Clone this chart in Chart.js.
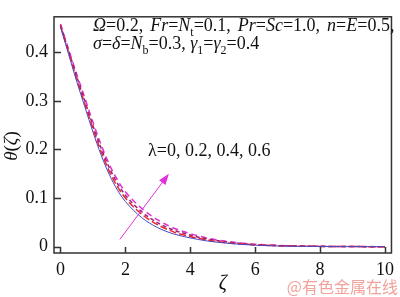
<!DOCTYPE html>
<html>
<head>
<meta charset="utf-8">
<script src="https://cdn.jsdelivr.net/npm/chart.js@4.4.1/dist/chart.umd.min.js"></script>
<style>
  body { margin: 0; background: #fff; }
</style>
</head>
<body>
<canvas id="chart" width="400" height="297"></canvas>
<script>
// zeta values along the x axis
var zeta = [0, 0.25, 0.5, 0.75, 1, 1.25, 1.5, 1.75, 2, 2.5, 3, 3.5, 4, 4.5, 5, 5.5, 6, 7, 8, 9, 10];

// theta(zeta) for lambda = 0, 0.2, 0.4, 0.6
var thetaL0  = [0.452, 0.396, 0.340, 0.288, 0.236, 0.189, 0.149, 0.117, 0.093, 0.060, 0.039, 0.026, 0.018, 0.012, 0.008, 0.005, 0.003, 0.001, 0.0004, 0.0001, 0];
var thetaL02 = [0.454, 0.400, 0.345, 0.294, 0.243, 0.196, 0.156, 0.124, 0.100, 0.067, 0.045, 0.030, 0.021, 0.014, 0.009, 0.006, 0.004, 0.0015, 0.0006, 0.0002, 0];
var thetaL04 = [0.456, 0.403, 0.350, 0.300, 0.249, 0.203, 0.163, 0.131, 0.106, 0.072, 0.049, 0.034, 0.024, 0.016, 0.011, 0.007, 0.004, 0.0017, 0.0007, 0.0002, 0];
var thetaL06 = [0.458, 0.406, 0.355, 0.306, 0.256, 0.210, 0.170, 0.138, 0.113, 0.079, 0.055, 0.038, 0.027, 0.018, 0.012, 0.008, 0.005, 0.002, 0.0008, 0.0003, 0];

var xTicks = [0, 2, 4, 6, 8, 10];
var yTicks = [0, 0.1, 0.2, 0.3, 0.4];
var yTickLabels = ['0', '0.1', '0.2', '0.3', '0.4'];

var serif = '"Liberation Serif"';

Chart.defaults.font.family = serif;
Chart.defaults.font.size = 18;
Chart.defaults.color = '#111';

function pts(ys) {
  return zeta.map(function (z, i) { return { x: z, y: ys[i] }; });
}

// draws text made of normal / italic / subscript pieces
function drawRich(ctx, parts, x, y, size) {
  parts.forEach(function (p) {
    var s = p.sub ? Math.round(size * 0.65) : size;
    ctx.font = (p.i ? 'italic ' : '') + s + 'px ' + serif;
    ctx.fillText(p.t, x, y + (p.sub ? size * 0.25 : 0));
    x += ctx.measureText(p.t).width + (p.gap || 0);
  });
}

var line1 = [
  {t: 'Ω', i: 1}, {t: '=0.2, ', gap: 2.5}, {t: 'Fr', i: 1}, {t: '='}, {t: 'N', i: 1}, {t: 't', sub: 1},
  {t: '=0.1, ', gap: 2.5}, {t: 'Pr', i: 1}, {t: '='}, {t: 'Sc', i: 1}, {t: '=1.0, ', gap: 2.5},
  {t: 'n', i: 1}, {t: '='}, {t: 'E', i: 1}, {t: '=0.5,'}
];
var line2 = [
  {t: 'σ', i: 1}, {t: '='}, {t: 'δ', i: 1}, {t: '='}, {t: 'N', i: 1}, {t: 'b', sub: 1},
  {t: '=0.3, '}, {t: 'γ', i: 1}, {t: '1', sub: 1}, {t: '='}, {t: 'γ', i: 1}, {t: '2', sub: 1}, {t: '=0.4'}
];

var frame = {
  id: 'frame',
  afterDraw: function (chart) {
    var ctx = chart.ctx, a = chart.chartArea;
    var xs = chart.scales.x, ys = chart.scales.y;
    ctx.save();
    // box + inward ticks
    ctx.strokeStyle = '#333';
    ctx.lineWidth = 1.5;
    ctx.strokeRect(a.left, a.top, a.right - a.left, a.bottom - a.top);
    ctx.beginPath();
    xs.ticks.forEach(function (t) {
      var px = Math.round(xs.getPixelForValue(t.value)) + 0.5;
      ctx.moveTo(px, a.bottom); ctx.lineTo(px, a.bottom - 6);
    });
    ys.ticks.forEach(function (t) {
      var py = Math.round(ys.getPixelForValue(t.value)) + 0.5;
      ctx.moveTo(a.left, py); ctx.lineTo(a.left + 7, py);
    });
    ctx.stroke();

    // arrow for increasing lambda
    var x0 = xs.getPixelForValue(1.83), y0 = ys.getPixelForValue(0.015);
    var x1 = xs.getPixelForValue(3.34), y1 = ys.getPixelForValue(0.15);
    var ang = Math.atan2(y1 - y0, x1 - x0);
    ctx.strokeStyle = '#e030dc';
    ctx.fillStyle = '#e030dc';
    ctx.lineWidth = 1;
    ctx.beginPath();
    ctx.moveTo(x0, y0); ctx.lineTo(x1 - 8 * Math.cos(ang), y1 - 8 * Math.sin(ang));
    ctx.stroke();
    ctx.beginPath();
    ctx.moveTo(x1, y1);
    ctx.lineTo(x1 - 11 * Math.cos(ang) + 4 * Math.sin(ang), y1 - 11 * Math.sin(ang) - 4 * Math.cos(ang));
    ctx.lineTo(x1 - 11 * Math.cos(ang) - 4 * Math.sin(ang), y1 - 11 * Math.sin(ang) + 4 * Math.cos(ang));
    ctx.closePath();
    ctx.fill();

    // texts
    ctx.fillStyle = '#111';
    ctx.textBaseline = 'alphabetic';
    ctx.textAlign = 'left';
    drawRich(ctx, line1, 93, 31, 18);
    drawRich(ctx, line2, 93, 49, 18);
    drawRich(ctx, [{t: 'λ'}, {t: '=0, 0.2, 0.4, 0.6'}], 148, 156, 18);

    // axis titles
    ctx.font = 'italic 20px ' + serif;
    ctx.textAlign = 'center';
    ctx.fillText('ζ', (a.left + a.right) / 2, 289);
    ctx.save();
    ctx.translate(17, 146);
    ctx.rotate(-Math.PI / 2);
    ctx.textAlign = 'left';
    var w = 0;
    ctx.font = 'italic 19px ' + serif; w += ctx.measureText('θ').width + ctx.measureText('ζ').width;
    ctx.font = '19px ' + serif; w += ctx.measureText('(').width + ctx.measureText(')').width;
    drawRich(ctx, [{t: 'θ', i: 1}, {t: '('}, {t: 'ζ', i: 1}, {t: ')'}], -w / 2, 0, 19);
    ctx.restore();

    // source mark
    ctx.font = '16px "Noto Sans CJK SC"';
    ctx.fillStyle = '#f2a29c';
    ctx.textAlign = 'right';
    ctx.fillText('@有色金属在线', 398, 293);
    ctx.restore();
  }
};

var ctx = document.getElementById('chart').getContext('2d');
var myChart = new Chart(ctx, {
  type: 'line',
  data: {
    datasets: [
      { label: 'λ=0',   data: pts(thetaL0),  borderColor: '#4848c0', borderWidth: 1 },
      { label: 'λ=0.2', data: pts(thetaL02), borderColor: '#e82828', borderWidth: 1.5, borderDash: [7, 3] },
      { label: 'λ=0.4', data: pts(thetaL04), borderColor: '#9a1e7e', borderWidth: 1.5, borderDash: [4, 3] },
      { label: 'λ=0.6', data: pts(thetaL06), borderColor: '#e030d0', borderWidth: 1.5, borderDash: [6, 4] }
    ]
  },
  options: {
    responsive: false,
    animation: false,
    devicePixelRatio: 1,
    layout: { padding: { top: 1, right: 1, left: 0, bottom: 0 } },
    elements: {
      point: { radius: 0 },
      line: { cubicInterpolationMode: 'monotone', fill: false }
    },
    plugins: { legend: { display: false }, tooltip: { enabled: false } },
    scales: {
      x: {
        type: 'linear',
        min: -0.2,
        max: 10.2,
        afterBuildTicks: function (s) { s.ticks = xTicks.map(function (v) { return { value: v }; }); },
        afterFit: function (s) { s.height = 44; },
        grid: { display: false, drawTicks: false },
        border: { display: false },
        ticks: {
          padding: 6, color: '#111', maxRotation: 0, autoSkip: false,
          font: { family: serif, size: 18 },
          callback: function (v) { return String(v); }
        }
      },
      y: {
        type: 'linear',
        min: -0.013,
        max: 0.473,
        afterBuildTicks: function (s) { s.ticks = yTicks.map(function (v) { return { value: v }; }); },
        afterFit: function (s) { s.width = 54; },
        grid: { display: false, drawTicks: false },
        border: { display: false },
        ticks: {
          padding: 6, color: '#111', autoSkip: false,
          font: { family: serif, size: 18 },
          callback: function (v) { return yTickLabels[yTicks.indexOf(v)]; }
        }
      }
    }
  },
  plugins: [frame]
});
</script>
</body>
</html>
